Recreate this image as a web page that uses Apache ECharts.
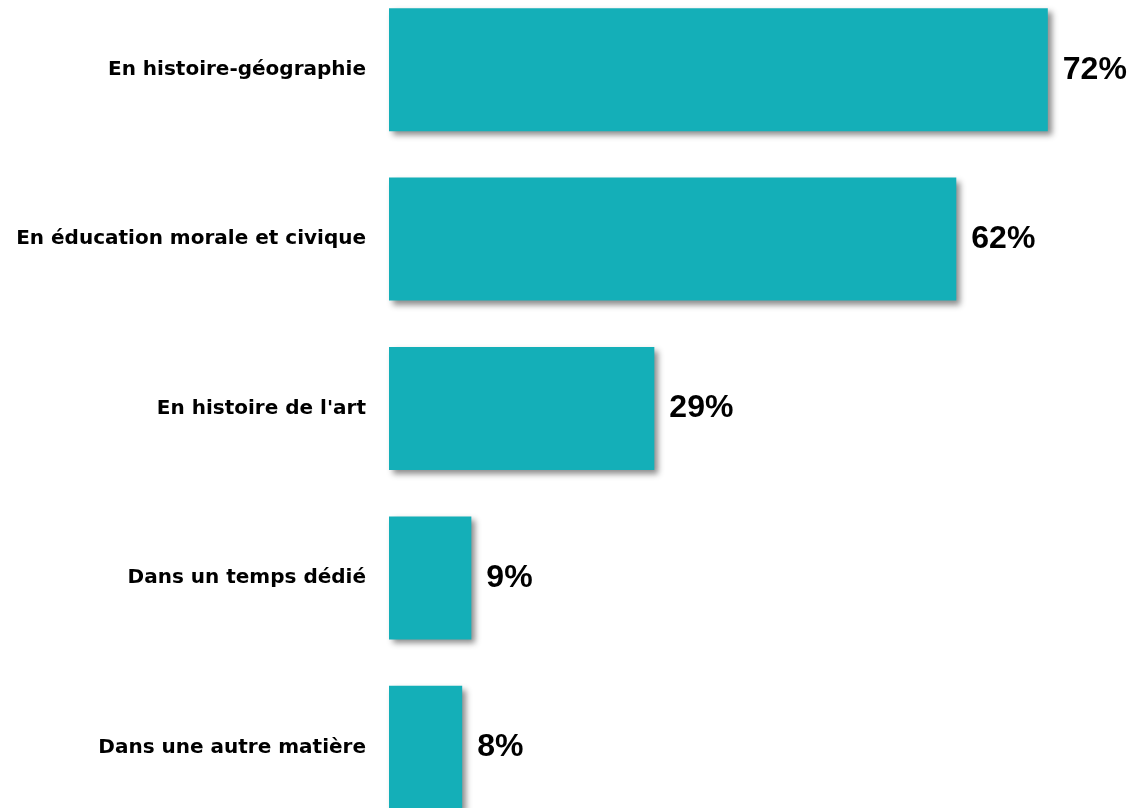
<!DOCTYPE html>
<html>
<head>
<meta charset="utf-8">
<script src="https://cdn.jsdelivr.net/npm/echarts@6/dist/echarts.min.js"></script>
<style>
html,body{margin:0;padding:0;background:#fff;overflow:hidden;width:1132px;height:808px;}
#chart{position:absolute;left:0;top:-15px;width:1132px;height:847px;}
</style>
</head>
<body>
<div id="chart"></div>
<script>
const categories = [
  "En histoire-géographie",
  "En éducation morale et civique",
  "En histoire de l'art",
  "Dans un temps dédié",
  "Dans une autre matière"
];
const values = [72, 62, 29, 9, 8];

const chart = echarts.init(document.getElementById('chart'), null, {renderer: 'canvas'});
chart.setOption({
  animation: false,
  backgroundColor: '#ffffff',
  grid: {left: 389, right: 11, top: 0, bottom: 0, containLabel: false},
  xAxis: {
    type: 'value', min: 0, max: 80,
    show: false
  },
  yAxis: {
    type: 'category',
    data: categories,
    inverse: true,
    axisLine: {show: false},
    axisTick: {show: false},
    splitLine: {show: false},
    axisLabel: {
      margin: 23,
      color: '#000',
      fontFamily: 'DejaVu Sans',
      fontWeight: 'bold',
      fontSize: 20
    }
  },
  series: [{
    type: 'bar',
    data: values,
    barWidth: 123,
    itemStyle: {
      color: '#14AFB8',
      shadowColor: 'rgba(0,0,0,0.45)',
      shadowBlur: 6,
      shadowOffsetX: 4,
      shadowOffsetY: 4
    },
    label: {
      show: true,
      position: 'right',
      distance: 15,
      formatter: '{c}%',
      color: '#000',
      fontFamily: 'Liberation Sans',
      fontWeight: 'bold',
      fontSize: 32
    }
  }]
});
</script>
</body>
</html>
